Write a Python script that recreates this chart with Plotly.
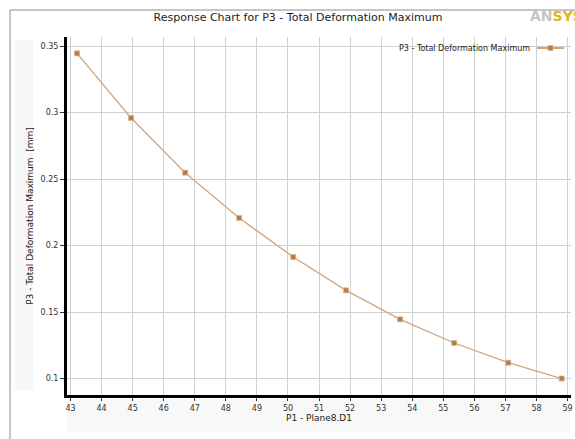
import plotly.graph_objects as go

p1_values = [43.21, 44.95, 46.69, 48.43, 50.17, 51.87, 53.61, 55.35, 57.09, 58.81]
p3_values = [0.3445, 0.2959, 0.2548, 0.2207, 0.1914, 0.1663, 0.1445, 0.1267, 0.1119, 0.1000]
x_ticks = list(range(43, 60))
y_ticks = [0.1, 0.15, 0.2, 0.25, 0.3, 0.35]
y_tick_labels = ["0.1", "0.15", "0.2", "0.25", "0.3", "0.35"]

series_name = "P3 - Total Deformation Maximum"
line_color = "#d2a57c"
marker_color = "#b97b48"
font_family = "DejaVu Sans, sans-serif"

W, H = 575, 439
L, R, T, B = 67, 4, 37, 44
pw, ph = W - L - R, H - T - B

def px_x(px):
    return (px - L) / pw

def px_y(py):
    return (H - B - py) / ph

fig = go.Figure()
fig.add_trace(go.Scatter(
    x=p1_values, y=p3_values, mode="lines+markers", name=series_name,
    line=dict(color=line_color, width=1.3),
    marker=dict(symbol="square", size=5, color=marker_color,
                line=dict(color="#d9b48f", width=0.8)),
    showlegend=False,
))

shapes = [
    # outer frame
    dict(type="rect", xref="paper", yref="paper",
         x0=px_x(10), x1=px_x(590), y0=px_y(10), y1=px_y(460),
         line=dict(color="#8c8c8c", width=1), fillcolor="rgba(0,0,0,0)", layer="below"),
    # faint label bands
    dict(type="rect", xref="paper", yref="paper",
         x0=px_x(15), x1=px_x(33), y0=px_y(390), y1=px_y(40),
         line=dict(width=0), fillcolor="#f7f7f7", layer="below"),
    dict(type="rect", xref="paper", yref="paper",
         x0=px_x(67), x1=px_x(570), y0=px_y(432), y1=px_y(399),
         line=dict(width=0), fillcolor="#f8f8f8", layer="below"),
    # legend sample
    dict(type="line", xref="paper", yref="paper",
         x0=px_x(537), x1=px_x(564), y0=px_y(48), y1=px_y(48),
         line=dict(color=line_color, width=2)),
    dict(type="rect", xref="paper", yref="paper",
         x0=px_x(548), x1=px_x(553), y0=px_y(50.5), y1=px_y(45.5),
         line=dict(color="#d9b48f", width=0.8), fillcolor=marker_color),
]

annotations = [
    dict(text=series_name, xref="paper", yref="paper",
         x=px_x(532), y=px_y(48), xanchor="right", yanchor="middle",
         showarrow=False, font=dict(family=font_family, size=8, color="#222")),
    dict(text="<b><span style='color:#c4c4c4'>AN</span><span style='color:#e0b21a'>SYS</span></b>",
         xref="paper", yref="paper", x=px_x(528), y=px_y(16),
         xanchor="left", yanchor="middle", showarrow=False,
         font=dict(family="DejaVu Sans, sans-serif", size=14, color="#888")),
]

fig.update_layout(
    width=W, height=H,
    margin=dict(l=L, r=R, t=T, b=B, autoexpand=False),
    paper_bgcolor="white", plot_bgcolor="white",
    title=dict(text="Response Chart for P3 - Total Deformation Maximum",
               xref="paper", x=px_x(298), xanchor="center",
               yref="container", y=1 - 17 / H, yanchor="middle",
               font=dict(family=font_family, size=11, color="#222")),
    font=dict(family=font_family, size=8, color="#333"),
    shapes=shapes, annotations=annotations,
    xaxis=dict(range=[42.887, 59.11], tickvals=x_ticks,
               ticktext=[str(v) for v in x_ticks], automargin=False,
               showgrid=True, gridcolor="#d0d0d0", gridwidth=1,
               showline=True, linecolor="black", linewidth=3,
               ticks="outside", ticklen=3, tickcolor="#333", tickwidth=1,
               zeroline=False, mirror=False,
               title=dict(text="P1 - Plane8.D1", standoff=2,
                          font=dict(family=font_family, size=9, color="#222")),
               tickfont=dict(family=font_family, size=8, color="#333")),
    yaxis=dict(range=[0.0876, 0.3568], tickvals=y_ticks, ticktext=y_tick_labels,
               automargin=False,
               showgrid=True, gridcolor="#d0d0d0", gridwidth=1,
               showline=True, linecolor="black", linewidth=3,
               ticks="outside", ticklen=4, tickcolor="#333", tickwidth=1,
               zeroline=False,
               title=dict(text="P3 - Total Deformation Maximum  [mm]", standoff=6,
                          font=dict(family=font_family, size=9, color="#222")),
               tickfont=dict(family=font_family, size=8, color="#333")),
)

fig.write_html("out.html", config={"displayModeBar": False},
               post_script="document.body.style.margin='0';document.body.style.overflow='hidden';")
